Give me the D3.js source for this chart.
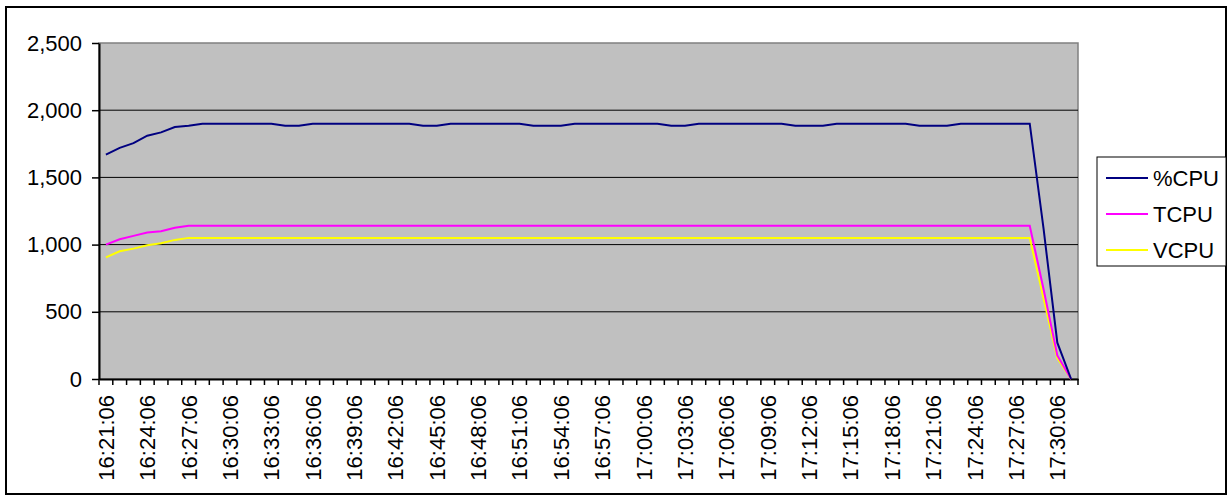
<!DOCTYPE html>
<html>
<head>
<meta charset="utf-8">
<script src="https://cdn.jsdelivr.net/npm/d3@7"></script>
<style>
  body { margin: 0; background: #fff; }
  text { font-family: "Liberation Sans", Arial, sans-serif; }
</style>
</head>
<body>
<svg id="chart" width="1229" height="499"></svg>
<script>
// Data
const times = [
  "16:21:06","16:22:06","16:23:06","16:24:06","16:25:06","16:26:06","16:27:06","16:28:06","16:29:06","16:30:06",
  "16:31:06","16:32:06","16:33:06","16:34:06","16:35:06","16:36:06","16:37:06","16:38:06","16:39:06","16:40:06",
  "16:41:06","16:42:06","16:43:06","16:44:06","16:45:06","16:46:06","16:47:06","16:48:06","16:49:06","16:50:06",
  "16:51:06","16:52:06","16:53:06","16:54:06","16:55:06","16:56:06","16:57:06","16:58:06","16:59:06","17:00:06",
  "17:01:06","17:02:06","17:03:06","17:04:06","17:05:06","17:06:06","17:07:06","17:08:06","17:09:06","17:10:06",
  "17:11:06","17:12:06","17:13:06","17:14:06","17:15:06","17:16:06","17:17:06","17:18:06","17:19:06","17:20:06",
  "17:21:06","17:22:06","17:23:06","17:24:06","17:25:06","17:26:06","17:27:06","17:28:06","17:29:06","17:30:06",
  "17:31:06"
];

const pctCPU = [
  1670,1720,1755,1810,1835,1875,1885,1900,1900,1900,
  1900,1900,1900,1885,1885,1900,1900,1900,1900,1900,
  1900,1900,1900,1885,1885,1900,1900,1900,1900,1900,
  1900,1885,1885,1885,1900,1900,1900,1900,1900,1900,
  1900,1885,1885,1900,1900,1900,1900,1900,1900,1900,
  1885,1885,1885,1900,1900,1900,1900,1900,1900,1885,
  1885,1885,1900,1900,1900,1900,1900,1900,1120,270,
  0
];

const tCPU = [
  1000,1040,1065,1090,1100,1125,1140,1140,1140,1140,
  1140,1140,1140,1140,1140,1140,1140,1140,1140,1140,
  1140,1140,1140,1140,1140,1140,1140,1140,1140,1140,
  1140,1140,1140,1140,1140,1140,1140,1140,1140,1140,
  1140,1140,1140,1140,1140,1140,1140,1140,1140,1140,
  1140,1140,1140,1140,1140,1140,1140,1140,1140,1140,
  1140,1140,1140,1140,1140,1140,1140,1140,670,175,
  0
];

const vCPU = [
  905,950,970,995,1010,1035,1050,1050,1050,1050,
  1050,1050,1050,1050,1050,1050,1050,1050,1050,1050,
  1050,1050,1050,1050,1050,1050,1050,1050,1050,1050,
  1050,1050,1050,1050,1050,1050,1050,1050,1050,1050,
  1050,1050,1050,1050,1050,1050,1050,1050,1050,1050,
  1050,1050,1050,1050,1050,1050,1050,1050,1050,1050,
  1050,1050,1050,1050,1050,1050,1050,1050,600,155,
  0
];

const seriesNames = ["%CPU", "TCPU", "VCPU"];
const seriesColors = ["#000080", "#FF00FF", "#FFFF00"];
const yTicks = [0, 500, 1000, 1500, 2000, 2500];

const series = [pctCPU, tCPU, vCPU].map((vals, i) => ({
  name: seriesNames[i],
  color: seriesColors[i],
  values: vals.map((v, j) => ({ t: times[j], v: v }))
}));

const fontSize = 22;
const svg = d3.select("#chart");

// outer frame
svg.append("rect")
  .attr("x", 6).attr("y", 7)
  .attr("width", 1220).attr("height", 487)
  .attr("fill", "none")
  .attr("stroke", "black")
  .attr("stroke-width", 2);

const plot = {left: 99, right: 1078, top: 43, bottom: 379};

const x = d3.scaleBand()
  .domain(times)
  .range([plot.left, plot.right])
  .padding(0);

const y = d3.scaleLinear()
  .domain([0, 2500])
  .range([plot.bottom, plot.top]);

// plot area
svg.append("rect")
  .attr("x", plot.left).attr("y", plot.top)
  .attr("width", plot.right - plot.left)
  .attr("height", plot.bottom - plot.top)
  .attr("fill", "#C0C0C0")
  .attr("stroke", "#808080")
  .attr("stroke-width", 1.5);

// gridlines
svg.append("g")
  .selectAll("line")
  .data(yTicks.filter(d => d > 0 && d < 2500))
  .enter()
  .append("line")
  .attr("x1", plot.left).attr("x2", plot.right)
  .attr("y1", d => y(d)).attr("y2", d => y(d))
  .attr("stroke", "black")
  .attr("stroke-width", 1);

// y axis
const yAxis = svg.append("g")
  .attr("transform", `translate(${plot.left},0)`)
  .call(d3.axisLeft(y)
    .tickValues(yTicks)
    .tickFormat(d3.format(","))
    .tickSize(7)
    .tickPadding(10)
    .tickSizeOuter(0));
yAxis.select(".domain").attr("stroke", "black").attr("stroke-width", 2);
yAxis.selectAll(".tick line").attr("stroke", "black").attr("stroke-width", 1.5);
yAxis.selectAll("text")
  .attr("font-size", fontSize)
  .attr("fill", "black")
  .style("font-family", "Liberation Sans, Arial, sans-serif");

// x axis: ticks on category boundaries, label every 3rd category
const bw = x.bandwidth();
const xAxis = svg.append("g")
  .attr("transform", `translate(0,${plot.bottom})`)
  .call(d3.axisBottom(x)
    .tickSize(0)
    .tickSizeOuter(0)
    .tickFormat((d, i) => i % 3 === 0 ? d : ""));
xAxis.select(".domain").attr("stroke", "black").attr("stroke-width", 2);
xAxis.selectAll(".tick").append("line")
  .attr("x1", -bw / 2).attr("x2", -bw / 2)
  .attr("y1", 0).attr("y2", 6)
  .attr("stroke", "black").attr("stroke-width", 1.5);
xAxis.append("line")
  .attr("x1", plot.right).attr("x2", plot.right)
  .attr("y1", 0).attr("y2", 6)
  .attr("stroke", "black").attr("stroke-width", 1.5);
xAxis.selectAll(".tick text")
  .attr("transform", "rotate(-90)")
  .attr("x", -16)
  .attr("y", 0)
  .attr("dy", "0.36em")
  .style("text-anchor", "end")
  .attr("font-size", fontSize)
  .attr("fill", "black")
  .style("font-family", "Liberation Sans, Arial, sans-serif");

// lines (yellow first so navy sits on top)
const line = d3.line()
  .x(d => x(d.t) + bw / 2)
  .y(d => y(d.v));

svg.append("g")
  .selectAll("path")
  .data(series.slice().reverse())
  .enter()
  .append("path")
  .attr("fill", "none")
  .attr("stroke", d => d.color)
  .attr("stroke-width", 2)
  .attr("d", d => line(d.values));

// legend
const legend = svg.append("g").attr("transform", "translate(1097,157)");
legend.append("rect")
  .attr("width", 129).attr("height", 109)
  .attr("fill", "white")
  .attr("stroke", "black")
  .attr("stroke-width", 1);

series.forEach((s, i) => {
  const cy = 21 + i * 36;
  legend.append("line")
    .attr("x1", 9).attr("x2", 51)
    .attr("y1", cy).attr("y2", cy)
    .attr("stroke", s.color)
    .attr("stroke-width", 2);
  legend.append("text")
    .attr("x", 56)
    .attr("y", cy)
    .attr("dy", "0.36em")
    .attr("font-size", fontSize)
    .text(s.name);
});
</script>
</body>
</html>
